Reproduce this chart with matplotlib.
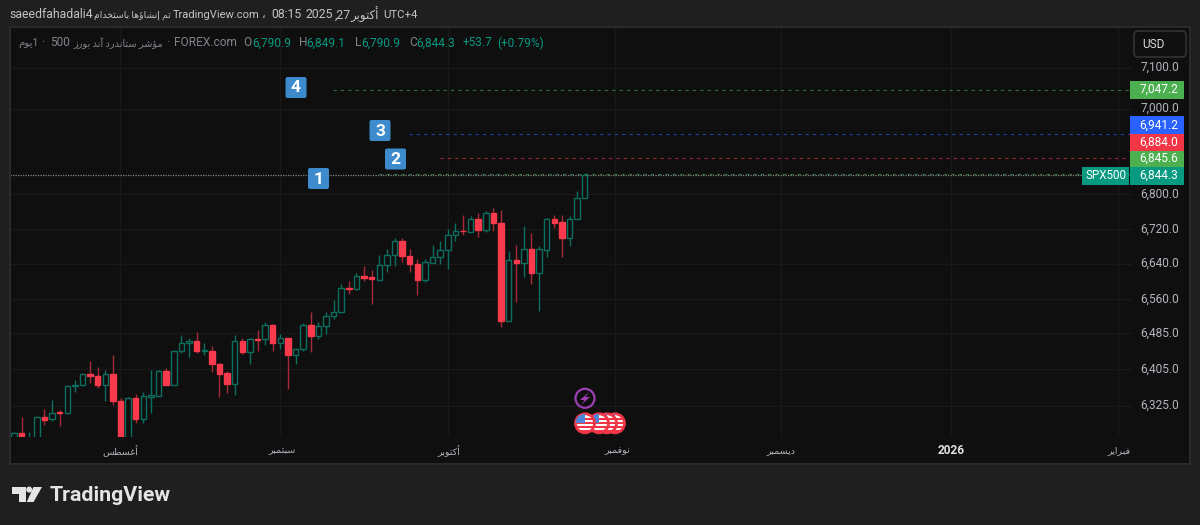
"""
TradingView style daily candle chart of the SPX500 (FOREX.com).
"""
import matplotlib
matplotlib.use('Agg')
import matplotlib.pyplot as plt
from matplotlib.patches import Circle, FancyBboxPatch, Polygon, Rectangle

# Daily bars, oldest first (first bars run below the visible range)
opens = [6256, 6267, 6245, 6250, 6301, 6296, 6312, 6309, 6368, 6369, 6393, 6390, 6369, 6393, 6336, 6250,
         6342, 6296, 6343, 6346, 6401, 6371, 6445, 6462, 6467, 6445, 6445, 6415, 6396, 6372, 6467, 6442,
         6470, 6470, 6502, 6462, 6473, 6435, 6450, 6502, 6478, 6499, 6522, 6530, 6584, 6583, 6611, 6609,
         6604, 6636, 6659, 6691, 6658, 6640, 6604, 6642, 6654, 6671, 6705, 6715, 6713, 6742, 6717, 6755,
         6734, 6510, 6648, 6642, 6673, 6618, 6672, 6742, 6735, 6699, 6741, 6790.9]
highs = [6269, 6300, 6269, 6302, 6318, 6337, 6316, 6369, 6381, 6396, 6423, 6410, 6403, 6436, 6342, 6343,
         6350, 6354, 6403, 6403, 6408, 6447, 6480, 6473, 6487, 6463, 6456, 6418, 6401, 6480, 6473, 6473,
         6491, 6508, 6505, 6482, 6473, 6451, 6507, 6532, 6508, 6530, 6558, 6594, 6601, 6619, 6635, 6626,
         6659, 6673, 6699, 6699, 6673, 6650, 6650, 6682, 6691, 6719, 6732, 6751, 6749, 6755, 6761, 6767,
         6763, 6669, 6682, 6726, 6711, 6680, 6744, 6752, 6752, 6749, 6806, 6849.1]
lows = [6249, 6258, 6235, 6248, 6284, 6293, 6282, 6307, 6355, 6368, 6375, 6364, 6335, 6327, 6248, 6248,
        6287, 6287, 6309, 6346, 6369, 6369, 6439, 6432, 6440, 6436, 6399, 6344, 6353, 6348, 6437, 6416,
        6445, 6457, 6445, 6450, 6361, 6415, 6445, 6443, 6471, 6482, 6516, 6530, 6571, 6580, 6600, 6550,
        6603, 6621, 6635, 6644, 6622, 6568, 6599, 6642, 6639, 6628, 6692, 6705, 6713, 6700, 6713, 6715,
        6498, 6510, 6553, 6610, 6593, 6534, 6655, 6721, 6654, 6680, 6741, 6790.9]
closes = [6267, 6259, 6255, 6301, 6294, 6310, 6309, 6368, 6370, 6393, 6389, 6369, 6393, 6335, 6250, 6341,
          6297, 6345, 6348, 6401, 6371, 6445, 6462, 6467, 6445, 6446, 6415, 6395, 6372, 6467, 6442, 6470,
          6469, 6502, 6462, 6473, 6435, 6450, 6502, 6478, 6499, 6522, 6530, 6584, 6583, 6611, 6608, 6605,
          6637, 6660, 6691, 6658, 6639, 6604, 6643, 6654, 6672, 6705, 6715, 6714, 6742, 6717, 6755, 6732,
          6510, 6648, 6642, 6673, 6618, 6673, 6742, 6734, 6699, 6742, 6791, 6844.3]

price_ticks = [6325, 6405, 6485, 6560, 6640, 6720, 6800, 7000, 7100]
level_prices = [6845.6, 6884.0, 6941.2, 7047.2]
level_colors = ['#4caf50', '#f23645', '#2962ff', '#4caf50']
last_close = 6844.3

BG = '#1f1f1f'
PANE = '#0f0f0f'
GRID = '#191919'
TEXT = '#b2b5be'
UP = '#0b6e5e'
DOWN = '#f9394c'
FONT = ['Roboto', 'DejaVu Sans']

plt.rcParams['font.family'] = FONT


# matplotlib has no Arabic shaping: letter -> (isolated, final, initial, medial)
FORMS = {
    'ا': 'ﺍﺎ', 'أ': 'ﺃﺄ', 'إ': 'ﺇﺈ', 'آ': 'ﺁﺂ', 'د': 'ﺩﺪ', 'ذ': 'ﺫﺬ', 'ر': 'ﺭﺮ', 'ز': 'ﺯﺰ', 'و': 'ﻭﻮ', 'ؤ': 'ﺅﺆ',
    'ب': 'ﺏﺐﺑﺒ', 'ت': 'ﺕﺖﺗﺘ', 'ج': 'ﺝﺞﺟﺠ', 'خ': 'ﺥﺦﺧﺨ', 'س': 'ﺱﺲﺳﺴ', 'ش': 'ﺵﺶﺷﺸ',
    'ط': 'ﻁﻂﻃﻄ', 'غ': 'ﻍﻎﻏﻐ', 'ف': 'ﻑﻒﻓﻔ', 'ك': 'ﻙﻚﻛﻜ', 'م': 'ﻡﻢﻣﻤ', 'ن': 'ﻥﻦﻧﻨ', 'ه': 'ﻩﻪﻫﻬ', 'ي': 'ﻱﻲﻳﻴ',
}


def ar(text):
    """Shape Arabic words and return them in visual (left to right) order."""
    out = []
    for word in text.split(' '):
        shaped = ''
        for i, ch in enumerate(word):
            if ch not in FORMS:
                shaped += ch
                continue
            joins_prev = i > 0 and word[i - 1] in FORMS and len(FORMS[word[i - 1]]) == 4
            joins_next = i < len(word) - 1 and word[i + 1] in FORMS and len(FORMS[ch]) == 4
            if joins_prev and joins_next:
                shaped += FORMS[ch][3]
            elif joins_prev:
                shaped += FORMS[ch][1]
            elif joins_next:
                shaped += FORMS[ch][2]
            else:
                shaped += FORMS[ch][0]
        out.append(shaped[::-1])
    return ' '.join(out[::-1])


fig = plt.figure(figsize=(12, 5.25), dpi=100, facecolor=BG)

# candle pane, pixel box x 10-1132, y 27-437
ax = fig.add_axes([10 / 1200, 1 - 437 / 525, 1122 / 1200, 410 / 525], facecolor=PANE)
ax.set_yscale('log')
ax.set_xlim((10 - 14) / 7.61, (1132 - 14) / 7.61)
ax.set_ylim(6257.7, 7199.7)
ax.minorticks_off()
ax.set_xticks([])
ax.set_yticks(price_ticks)
ax.tick_params(left=False, labelleft=False, which='both')
for s in ax.spines.values():
    s.set_visible(False)
ax.grid(True, axis='y', color=GRID, linewidth=1)
for gx in [120, 280, 448, 615, 781, 951, 1118]:
    ax.axvline((gx - 14) / 7.61, color=GRID, linewidth=1, zorder=0)

for i in range(len(opens)):
    o, h, l, c = opens[i], highs[i], lows[i], closes[i]
    up = c >= o
    ax.vlines(i, l, h, color=UP if up else '#a52a38', linewidth=1, zorder=2)
    rect = Rectangle((i - 0.36, min(o, c)), 0.72, max(abs(c - o), 0.6),
                     facecolor=PANE if up else DOWN, edgecolor=UP if up else DOWN,
                     linewidth=1, zorder=3)
    ax.add_patch(rect)

# drawn levels and the last price line
ax.axhline(last_close, color='#7f8488', linewidth=0.9, linestyle=(0, (1, 1)), zorder=1)
starts = [379, 440, 409, 333]
for price, col, sx in zip(level_prices, level_colors, starts):
    ax.plot([(sx - 14) / 7.61, (1132 - 14) / 7.61], [price, price], color=col, alpha=0.6,
            linewidth=0.8, linestyle=(0, (3, 3.6)), zorder=4)

# overlay in pixel coordinates for the interface parts
ui = fig.add_axes([0, 0, 1, 1], facecolor='none')
ui.set_xlim(0, 1200)
ui.set_ylim(525, 0)
ui.axis('off')

# price scale and time scale share the pane colour, one frame round everything
ui.add_patch(Rectangle((1132, 27), 58, 437, facecolor=PANE, edgecolor='none', zorder=0))
ui.add_patch(Rectangle((10, 437), 1122, 27, facecolor=PANE, edgecolor='none', zorder=0))
ui.add_patch(Rectangle((10, 27), 1180, 437, fill=False, edgecolor='#2b2b2b', linewidth=1.4, zorder=1))

# header, placed in pieces because the Arabic runs narrower than the latin text
HEAD = '#c4c4c4'
ui.text(9, 15, 'saeedfahadali4', color=HEAD, fontsize=8.8, va='center')
ui.text(94, 15, ar('تم إنشاؤها باستخدام'), color=HEAD, fontsize=6.7, va='center')
ui.text(173, 15, 'TradingView.com', color=HEAD, fontsize=8.0, va='center')
ui.text(262, 15, '،', color=HEAD, fontsize=8.0, va='center')
ui.text(271, 15, '08:15', color=HEAD, fontsize=8.8, va='center')
ui.text(306, 15, '2025', color=HEAD, fontsize=8.8, va='center')
ui.text(335, 15, ',27', color=HEAD, fontsize=8.8, va='center')
ui.text(350, 15, ar('أكتوبر'), color=HEAD, fontsize=8.5, va='center')
ui.text(383, 15, 'UTC+4', color=HEAD, fontsize=8.2, va='center')

# legend row
LEG = '#80838c'
ui.text(18, 43, ar('1يوم'), color=LEG, fontsize=7.4, va='center')
ui.text(41, 43, '·', color=LEG, fontsize=8.6, va='center')
ui.text(50, 43, '500', color=LEG, fontsize=8.6, va='center')
ui.text(73, 43, ar('مؤشر ستاندرد آند بورز'), color=LEG, fontsize=7, va='center')
ui.text(166, 43, '·', color=LEG, fontsize=8.6, va='center')
ui.text(174, 43, 'FOREX.com', color=LEG, fontsize=8.6, va='center')
for lx, vx, letter, val in [(243, 252, 'O', '6,790.9'), (299, 306, 'H', '6,849.1'),
                            (355, 361, 'L', '6,790.9'), (409, 416, 'C', '6,844.3')]:
    ui.text(lx, 43, letter, color=LEG, fontsize=8.6, va='center')
    ui.text(vx, 43, val, color='#089981', fontsize=8.6, va='center')
ui.text(463, 43, '+53.7', color='#089981', fontsize=8.6, va='center')
ui.text(497, 43, '(+0.79%)', color='#089981', fontsize=8.6, va='center')

# price scale
for p, py in zip(price_ticks, [405, 369, 333, 299, 263, 229, 194, 108, 67]):
    ui.text(1159.5, py, f'{p:,.1f}', color=TEXT, fontsize=8.6, ha='center', va='center')

ui.add_patch(FancyBboxPatch((1134, 31), 52, 26, boxstyle='round,pad=0,rounding_size=4',
                            facecolor=PANE, edgecolor='#3a3a3a', linewidth=1))
ui.text(1153, 44, 'USD', color='#d8d8d8', fontsize=8.6, ha='center', va='center')

tags = [(7047.2, 81, 98.5, '#4caf50'), (6941.2, 116, 134, '#2962ff'),
        (6884.0, 134, 150.5, '#f23645'), (6845.6, 150.5, 167, '#4caf50'),
        (6844.3, 167, 184.5, '#089981')]
for val, y0, y1, col in tags:
    ui.add_patch(Rectangle((1130, y0), 54, y1 - y0, facecolor=col, edgecolor='none', zorder=3))
    ui.text(1159, (y0 + y1) / 2, f'{val:,.1f}', color='white', fontsize=8.6, ha='center', va='center', zorder=4)
ui.add_patch(Rectangle((1082, 167), 47, 17.5, facecolor='#089981', edgecolor='none', zorder=3))
ui.text(1105.5, 175.5, 'SPX500', color='white', fontsize=8.4, ha='center', va='center', zorder=4)

# numbered markers
for label, cx, cy in [('4', 296, 87.5), ('3', 380, 130.5), ('2', 395.5, 159), ('1', 318.5, 178.5)]:
    ui.add_patch(FancyBboxPatch((cx - 10.5, cy - 10.5), 21, 21, boxstyle='round,pad=0,rounding_size=2',
                                facecolor='#3d8bcd', edgecolor='none', zorder=6))
    ui.text(cx, cy + 0.5, label, color='white', fontsize=12.5, fontweight='bold', ha='center',
            va='center', zorder=7)

# month labels
month_labels = [ar('أغسطس'), ar('سبتمبر'), ar('أكتوبر'), ar('نوفمبر'), ar('ديسمبر'), '2026', ar('فبراير')]
month_x = [120, 282, 449, 617, 781, 951, 1119]
for label, mx in zip(month_labels, month_x):
    bold = label == '2026'
    ui.text(mx, 451, label, color='#e0e0e0' if bold else TEXT, fontsize=8.6 if bold else 6.8,
            fontweight='bold' if bold else 'normal', ha='center', va='center')

# economic event icons
ui.add_patch(Circle((585, 398.3), 9.5, facecolor=PANE, edgecolor='#9c3fb5', linewidth=1.6, zorder=6))
ui.add_patch(Polygon([(589, 392), (580, 400), (584.5, 400), (581, 405), (590, 397), (585.5, 397)],
                     facecolor='#9c3fb5', edgecolor='none', zorder=7))
for n, fx in enumerate([615, 607, 599, 585]):
    z = 8 + n * 2
    disc = Circle((fx, 423.3), 9.5, facecolor='white', edgecolor='#f23645', linewidth=2, zorder=z)
    ui.add_patch(disc)
    for sy in [418, 422, 426, 430]:
        st = ui.add_patch(Rectangle((fx - 10, sy), 20, 2, facecolor='#f23645', edgecolor='none', zorder=z))
        st.set_clip_path(disc)
    canton = ui.add_patch(Rectangle((fx - 10, 413), 10, 9.5, facecolor='#4a86d8', edgecolor='none', zorder=z))
    canton.set_clip_path(disc)

# TradingView logo
LOGO = '#e4e4e4'
ui.add_patch(Polygon([(12, 487), (26, 487), (26, 502), (19, 502), (19, 494), (12, 494)],
                     facecolor=LOGO, edgecolor='none'))
ui.add_patch(Circle((29.2, 489.6), 3, facecolor=LOGO, edgecolor='none'))
ui.add_patch(Polygon([(33.5, 487), (42, 487), (33.5, 502), (26.7, 502)], facecolor=LOGO, edgecolor='none'))
ui.text(49.5, 495.5, 'TradingView', color=LOGO, fontsize=15.4, fontweight='semibold', va='center', ha='left')

plt.savefig('out.png', dpi=100, facecolor=fig.get_facecolor())
